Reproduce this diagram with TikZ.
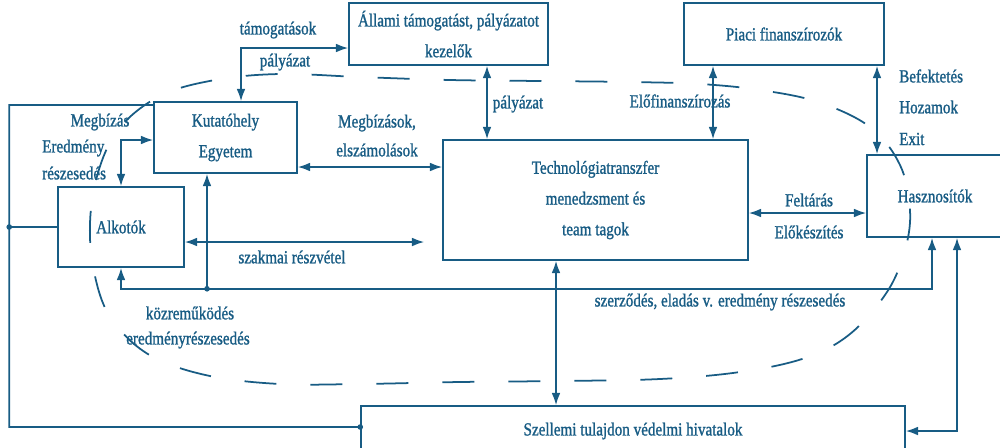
\documentclass[tikz,border=0pt]{standalone}
\usepackage{fontspec}
\setmainfont{Liberation Serif}[FakeStretch=0.82,FakeBold=1.2]
\usetikzlibrary{arrows.meta,calc}
\definecolor{tkblue}{RGB}{24,92,132}

\begin{document}
\begin{tikzpicture}[x=0.02cm,y=-0.02cm,
  every node/.style={text=tkblue,font=\fontsize{10.5}{12}\selectfont},
  box/.style={draw=tkblue,line width=0.9pt,align=center,inner sep=0pt,
    font=\fontsize{10.5}{17.5}\selectfont},
  ln/.style={draw=tkblue,line width=1pt},
  dbl/.style={ln,{Latex[length=7pt,width=5pt]}-{Latex[length=7pt,width=5pt]}},
  sgl/.style={ln,-{Latex[length=7pt,width=5pt]}},
  dot/.style={circle,fill=tkblue,inner sep=0pt,minimum size=3.2pt},
  kor/.style={draw=tkblue,line width=1pt,dash pattern=on 0.64cm off 0.68cm}]
  \clip (0,0) rectangle (1000,447);
  % Dashed boundary
  \draw[kor] plot[smooth cycle,tension=0.6] coordinates {
    (90,238) (96,180) (118,130) (160,96) (215,80) (280,74) (360,77)
    (450,80) (540,81) (630,82) (700,84) (760,90) (818,102) (870,127)
    (900,165) (910,210) (905,250) (887,292) (850,334) (805,358)
    (740,372) (660,379) (560,381) (460,382) (360,384) (280,384)
    (210,376) (155,358) (120,330) (100,295)};
  % Boxes
  \node[box,minimum width=3.98cm,minimum height=1.24cm] (allami) at (448.5,34)
    {Állami támogatást, pályázatot\\ kezelők};
  \node[box,minimum width=4cm,minimum height=1.24cm] (piaci) at (784,34)
    {Piaci finanszírozók};
  \node[box,minimum width=2.86cm,minimum height=1.42cm] (kutato) at (225.5,137.5)
    {Kutatóhely\\ Egyetem};
  \node[box,minimum width=2.52cm,minimum height=1.6cm] (alkoto) at (121,227)
    {Alkotók};
  \node[box,minimum width=6.1cm,minimum height=2.4cm] (tt) at (595.5,200)
    {Technológiatranszfer\\ menedzsment és\\ team tagok};
  \node[box,minimum width=2.86cm,minimum height=1.64cm] (haszn) at (938.5,196) {};
  \node (hasznt) at (935,196) {Hasznosítók};
  \node[box,minimum width=10.88cm,minimum height=1cm] (szell) at (633,431)
    {Szellemi tulajdon védelmi hivatalok};
  % Connectors
  \draw[dbl] ($(kutato.north)+(15.5,0)$) |- ($(allami.west)+(0,14)$);
  \draw[dbl] ($(allami.south)+(38.5,0)$) -- ($(tt.north)+(-108.5,0)$);
  \draw[dbl] ($(piaci.south)+(-71,0)$) -- ($(tt.north)+(117.5,0)$);
  \draw[dbl] ($(piaci.south)+(93,0)$) -- ($(haszn.north)+(-61.5,0)$);
  \draw[dbl] ($(kutato.east)+(0,29.5)$) -- ($(tt.west)+(0,-33)$);
  \draw[dbl] ($(kutato.west)+(0,2.5)$) -| (alkoto.north);
  \coordinate (szakvege) at ($(tt.west)+(-18,42)$);
  \draw[dbl] ($(alkoto.east)+(0,15)$) -- (szakvege);
  \coordinate (alsosor) at ($(alkoto.south)+(0,21)$);
  \draw[dbl] (alkoto.south) -- (alsosor) -| ($(haszn.south)+(-6.5,0)$);
  \coordinate (kutcsat) at ($(kutato.south)+(-18.5,115)$);
  \draw[sgl] (kutcsat) -- ($(kutato.south)+(-18.5,0)$);
  \node[dot] (d1) at (kutcsat) {};
  \draw[dbl] ($(tt.south)+(-39.5,0)$) -- ($(szell.north)+(-77,0)$);
  \draw[dbl] ($(tt.east)+(0,13)$) -- ($(haszn.west)+(0,17)$);
  \draw[dbl] (szell.east) -| ($(haszn.south)+(18.5,0)$);
  % Left loop
  \coordinate (balfent) at ($(kutato.west)+(-144,-32.5)$);
  \coordinate (balalul) at ($(szell.west)+(-351,-4)$);
  \draw[ln] ($(kutato.west)+(0,-32.5)$) -- (balfent) -- (balalul) -- (balalul -| szell.west);
  \node[dot] (d2) at (balalul -| szell.west) {};
  \draw[ln] (alkoto.west) -- (alkoto.west -| balfent);
  \node[dot] (d3) at (alkoto.west -| balfent) {};
  % Labels
  \node (tamog) at (278,30) {támogatások};
  \node (palya) at (285,62) {pályázat};
  \node (palyb) at (518,104) {pályázat};
  \node (elofin) at (680,101) {Előfinanszírozás};
  \node[anchor=west] (befekt) at (893,76) {Befektetés};
  \node[anchor=west] (hozam) at (893,107) {Hozamok};
  \node[anchor=west] (exit) at (893,139) {Exit};
  \node (megbsz) at (377,123) {Megbízások,};
  \node (elsz) at (377,150) {elszámolások};
  \node (megbiz) at (100,122) {Megbízás};
  \node[anchor=west] (eredm) at (36,148) {Eredmény};
  \node[anchor=west] (reszes) at (36,173) {részesedés};
  \node (szakm) at (292,257) {szakmai részvétel};
  \node (kozrem) at (190,313) {közreműködés};
  \node (eredmresz) at (188,340) {eredményrészesedés};
  \node (szerz) at (720,302) {szerződés, eladás v. eredmény részesedés};
  \node (feltar) at (809,200) {Feltárás};
  \node (elokesz) at (809,232) {Előkészítés};
\end{tikzpicture}
\end{document}
